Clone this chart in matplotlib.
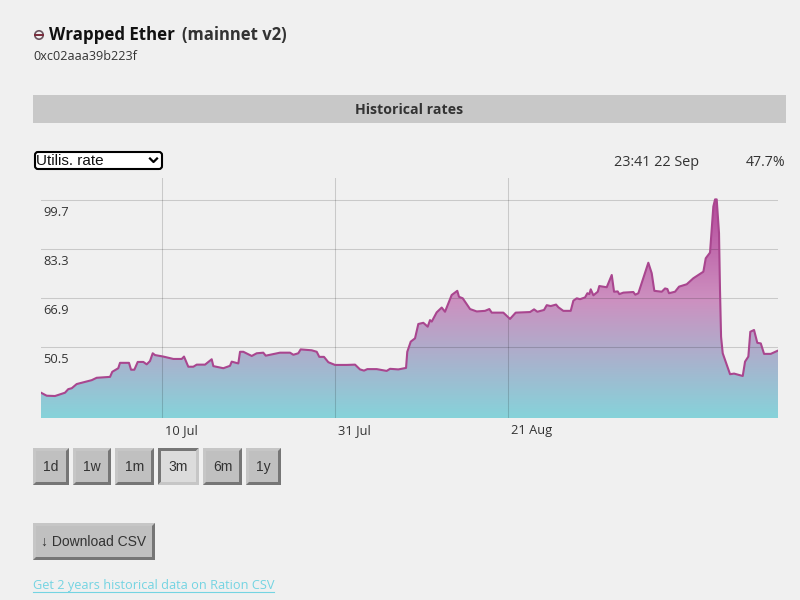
import matplotlib
matplotlib.use('Agg')
import matplotlib.pyplot as plt
import matplotlib.dates as mdates
from matplotlib.colors import LinearSegmentedColormap
from matplotlib.patches import Rectangle, FancyBboxPatch, Circle, Polygon
from matplotlib.transforms import ScaledTranslation
import numpy as np
import pandas as pd

start = pd.Timestamp('2022-06-25 07:12')
span_days = 89.46

# days since start
days = [0, 0.69, 1.70, 2.91, 3.31, 3.73, 4.33, 6.15, 6.76, 8.38, 8.65, 9.38, 9.59, 10.68, 10.93,
        11.33, 11.74, 12.42, 12.83, 13.23, 13.56, 13.84, 14.85, 16.07, 17.08, 17.36, 17.88, 18.49,
        18.90, 19.91, 20.72, 20.92, 22.13, 22.94, 23.15, 23.95, 24.16, 24.56, 25.58, 26.18, 26.98,
        27.28, 29.01, 30.23, 30.63, 31.23, 31.52, 32.86, 33.47, 33.78, 34.35, 34.88, 35.69, 37.11,
        38.12, 38.72, 39.21, 39.61, 40.75, 41.96, 42.37, 43.37, 44.31, 44.46, 44.88, 45.40, 45.80,
        46.41, 46.94, 47.22, 47.43, 48.03, 48.64, 49.04, 49.85, 50.53, 50.74, 51.19, 52.08, 52.89,
        53.90, 54.42, 54.71, 56.12, 56.93, 57.62, 59.36, 59.85, 60.25, 61.06, 61.39, 61.87, 62.52,
        62.80, 63.40, 64.30, 64.62, 65.03, 65.43, 66.04, 66.32, 66.56, 66.73, 67.05, 67.58, 67.77,
        68.67, 69.28, 69.56, 70.00, 70.20, 70.69, 71.90, 72.14, 72.51, 73.32, 73.72, 74.13, 74.45,
        75.35, 75.75, 76.03, 76.23, 76.96, 77.45, 78.38, 79.18, 80.40, 80.69, 81.21, 81.61, 81.82,
        82.02, 82.30, 82.42, 82.55, 82.75, 83.64, 84.13, 85.18, 85.46, 85.86, 86.10, 86.55, 86.95,
        87.37, 87.77, 88.58, 89.46]

rates = [35.2, 34.2, 34.1, 35.2, 36.4, 36.7, 38.1, 39.4, 40.2, 40.5, 42.2, 43.4, 45.2, 45.2, 42.9,
         42.9, 45.5, 45.5, 44.7, 45.8, 48.4, 47.8, 47.3, 46.5, 46.5, 47.3, 43.9, 43.9,
         44.6, 44.6, 46.4, 44.1, 43.4, 44.2, 45.6, 45.0, 48.9, 48.9, 47.5, 48.4, 48.6,
         47.6, 48.6, 48.6, 47.9, 48.4, 49.7, 49.4, 48.9, 47.2, 47.2, 45.4, 44.5, 44.5,
         44.6, 43.0, 42.6, 43.1, 43.1, 42.5, 43.2, 43.0, 43.5, 48.9, 52.3, 53.4, 58.2,
         58.6, 57.3, 59.5, 59.0, 62.1, 63.7, 62.3, 67.9, 69.3, 67.3, 66.8, 63.2, 62.4,
         62.6, 63.2, 62.0, 62.0, 59.9, 62.0, 62.2, 63.1, 62.3, 62.9, 64.5, 64.2, 64.7,
         63.8, 62.6, 62.6, 66.0, 66.8, 66.5, 67.1, 68.5, 68.2, 69.8, 67.8, 69.0, 70.9,
         70.5, 74.6, 69.0, 69.1, 68.2, 68.7, 68.9, 68.0, 68.5, 75.4, 78.7, 75.2, 69.3,
         69.0, 70.1, 69.9, 68.5, 69.0, 70.7, 71.5, 73.5, 75.7, 80.2, 82.1, 97.5, 99.9,
         99.9, 88.6, 69.6, 53.9, 48.4, 41.4, 41.6, 40.8, 45.6, 47.3, 55.6, 56.2, 51.9,
         51.7, 48.2, 48.2, 49.3]

y_ticks = [50.5, 66.9, 83.3, 99.7]
x_ticks = ['2022-07-10', '2022-07-31', '2022-08-21']
x_labels = ['10 Jul', '31 Jul', '21 Aug']
ranges = ['1d', '1w', '1m', '3m', '6m', '1y']
active_range = '3m'

y_min, y_max = 26.74, 107.06

BG = '#f0f0f0'
UI = 'Open Sans'
ARIAL = ['Liberation Sans', 'DejaVu Sans']

fig = plt.figure(figsize=(8, 6), dpi=100, facecolor=BG)

# page furniture, drawn in pixel coordinates
page = fig.add_axes([0, 0, 1, 1], zorder=0)
page.set_xlim(0, 800)
page.set_ylim(600, 0)
page.axis('off')


def button(x0, x1, y0, y1, label, pressed=False):
    fill = '#dcdcdc' if pressed else '#c0c0c0'
    dark, light = '#767676', '#c6c6c6'
    tl, br = (dark, light) if pressed else (light, dark)
    b = 3
    page.add_patch(Rectangle((x0, y0), x1 - x0, y1 - y0, fc=fill, ec='none'))
    # bevel: top/left then bottom/right, mitred at the corners
    page.add_patch(Polygon([(x0, y1), (x0, y0), (x1, y0), (x1 - b, y0 + b), (x0 + b, y0 + b), (x0 + b, y1 - b)],
                           fc=tl, ec='none'))
    page.add_patch(Polygon([(x0, y1), (x1, y1), (x1, y0), (x1 - b, y0 + b), (x1 - b, y1 - b), (x0 + b, y1 - b)],
                           fc=br, ec='none'))
    page.text((x0 + x1) / 2, (y0 + y1) / 2 + 0.5, label, ha='center', va='center', fontsize=10,
              family=ARIAL, color='#333333')


# icon + heading
page.add_patch(Circle((39, 35), 4.2, fc='none', ec='#6b5560', lw=1.2))
page.plot([35, 43], [35, 35], color='#7a2a3a', lw=1.4)
page.text(49, 35, 'Wrapped Ether', fontsize=12.2, fontweight='bold', family=UI, color='#111111',
          ha='left', va='center')
page.text(182, 35, '(mainnet v2)', fontsize=12, fontweight='bold', family=UI, color='#333333',
          ha='left', va='center')
page.text(33, 56, '0xc02aaa39b223f', fontsize=9.1, family=UI, color='#333333', ha='left', va='center')

# section header
page.add_patch(Rectangle((33, 95), 753, 28, fc='#c8c8c8', ec='none'))
page.text(409.5, 109.5, 'Historical rates', fontsize=10.2, fontweight='bold', family=UI, color='#333333',
          ha='center', va='center')

# select box
page.add_patch(FancyBboxPatch((35, 152), 127, 17, boxstyle='round,pad=0,rounding_size=3',
                              fc='white', ec='black', lw=1.5))
page.text(36, 161, 'Utilis. rate', fontsize=11, family=ARIAL, color='#111111', ha='left', va='center')
page.plot([150, 153.5, 157], [158.5, 162, 158.5], color='black', lw=1.6)

page.text(656, 162, '23:41 22 Sep', fontsize=10.4, family=UI, color='#333333', ha='center', va='center')
page.text(785, 162, '47.7%', fontsize=10.2, family=UI, color='#333333', ha='right', va='center')

# range buttons
button_x = [(33, 69), (73, 111), (115, 154), (158, 199), (203, 242), (246, 281)]
for (x0, x1), r in zip(button_x, ranges):
    button(x0, x1, 448, 485, r, pressed=(r == active_range))

button(33, 155, 523, 560, '↓ Download CSV')

page.text(33, 585, 'Get 2 years historical data on Ration CSV', fontsize=9.15, family=UI,
          color='#74d4e2', ha='left', va='center')
page.plot([33, 274], [591.5, 591.5], color='#74d4e2', lw=0.8)

# chart
ax = fig.add_axes([41 / 800, 1 - 418 / 600, 737 / 800, 240 / 600], zorder=1, facecolor='none')

dates = start + pd.to_timedelta(days, unit='D')
end = start + pd.Timedelta(days=span_days)

poly = ax.fill_between(dates, rates, y_min, color='none', lw=0)
grad_cmap = LinearSegmentedColormap.from_list(
    'util', [(0, '#86d3da'), (0.54, '#cd90c0'), (1, '#b5489b')])
grad = np.linspace(0, 1, 256).reshape(-1, 1)
im = ax.imshow(grad, cmap=grad_cmap, origin='lower', aspect='auto', zorder=1,
               extent=[mdates.date2num(start), mdates.date2num(end), y_min, 99.9])
im.set_clip_path(poly.get_paths()[0], transform=ax.transData)
ax.plot(dates, rates, color='#a9468f', lw=1.5, zorder=3, solid_joinstyle='round')

ax.set_xlim(start, end)
ax.set_ylim(y_min, y_max)

ax.set_yticks(y_ticks, [str(v) for v in y_ticks])
ax.set_xticks(pd.to_datetime(x_ticks), x_labels)
ax.grid(True, color='black', alpha=0.16, lw=0.75)
ax.set_axisbelow(False)
for spine in ax.spines.values():
    spine.set_visible(False)
ax.tick_params(axis='both', length=0, labelsize=9.3, labelcolor='#333333')
ax.tick_params(axis='y', pad=-1.5)
ax.tick_params(axis='x', pad=4.5)

for label in ax.get_yticklabels():
    label.set_ha('left')
    label.set_family(UI)
    label.set_transform(label.get_transform() + ScaledTranslation(0, -11 / 100, fig.dpi_scale_trans))
for label in ax.get_xticklabels():
    label.set_ha('left')
    label.set_family(UI)
    label.set_transform(label.get_transform() + ScaledTranslation(3 / 100, 0, fig.dpi_scale_trans))

fig.savefig('out.png', dpi=100, facecolor=BG)
plt.close(fig)
